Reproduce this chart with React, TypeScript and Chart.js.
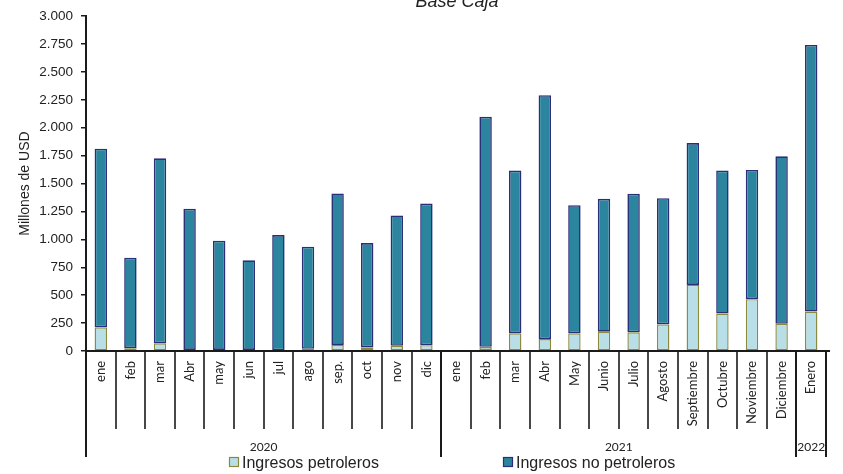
import React, { useEffect, useRef } from "react";
import { Chart, registerables } from "chart.js";

Chart.register(...registerables);

const months: string[] = [
  "ene", "feb", "mar", "Abr", "may", "jun", "jul", "ago", "sep.", "oct", "nov", "dic",
  "ene", "feb", "mar", "Abr", "May", "Junio", "Julio", "Agosto", "Septiembre", "Octubre", "Noviembre", "Diciembre",
  "Enero",
];
const years: { label: string; count: number }[] = [
  { label: "2020", count: 12 },
  { label: "2021", count: 12 },
  { label: "2022", count: 1 },
];
const petroleros: (number | null)[] = [
  211, 25, 69, 10, 10, 10, 5, 20, 54, 33, 47, 52,
  null, 38, 158, 107, 158, 173, 167, 238, 592, 336, 464, 244,
  354,
];
const noPetroleros: (number | null)[] = [
  1601, 811, 1657, 1264, 978, 802, 1033, 914, 1357, 934, 1167, 1269,
  null, 2060, 1458, 2185, 1148, 1190, 1241, 1131, 1271, 1280, 1158, 1500,
  2387,
];
const yTicks: number[] = [0, 250, 500, 750, 1000, 1250, 1500, 1750, 2000, 2250, 2500, 2750, 3000];

const title = "Base Caja";
const yTitle = "Millones de USD";
const seriesNames = ["Ingresos petroleros", "Ingresos no petroleros"];

const PETRO_FILL = "#b8dfe8";
const PETRO_BORDER = "#8a8a3c";
const NON_FILL = "#2c859e";
const NON_BORDER = "#2b2f78";

function fmt(v: number): string {
  const s = Math.round(v).toString();
  return s.replace(/\B(?=(\d{3})+(?!\d))/g, ".");
}

const overlay = {
  id: "overlay",
  afterDraw(chart: any) {
    const ctx = chart.ctx as CanvasRenderingContext2D;
    const x = chart.scales.x;
    const area = chart.chartArea;
    const n = months.length;
    const step = (x.getPixelForValue(n - 1) - x.getPixelForValue(0)) / (n - 1);
    const axisY = area.bottom;
    ctx.save();

    // title
    ctx.fillStyle = "#222";
    ctx.font = "italic 18px 'Liberation Sans', Arial, sans-serif";
    ctx.textAlign = "center";
    ctx.textBaseline = "alphabetic";
    ctx.fillText(title, (area.left + area.right) / 2 + 1, 7);

    // x axis line
    ctx.strokeStyle = "#1a1a1a";
    ctx.lineWidth = 2;
    ctx.beginPath();
    ctx.moveTo(area.left, axisY);
    ctx.lineTo(area.right + 4, axisY);
    ctx.stroke();

    // group boundaries
    const groupIdx = new Set<number>();
    let acc = 0;
    groupIdx.add(0);
    years.forEach((y) => {
      acc += y.count;
      groupIdx.add(acc);
    });

    for (let i = 0; i <= n; i++) {
      const bx = Math.round(x.getPixelForValue(0) - step / 2 + i * step);
      const isGroup = groupIdx.has(i);
      ctx.lineWidth = isGroup ? 2 : 1.6;
      ctx.strokeStyle = "#1a1a1a";
      ctx.beginPath();
      ctx.moveTo(bx, axisY);
      ctx.lineTo(bx, isGroup ? axisY + 106 : axisY + 78);
      ctx.stroke();
    }

    // month labels
    ctx.fillStyle = "#222";
    ctx.font = "13px Lato, 'Open Sans', sans-serif";
    ctx.textAlign = "right";
    ctx.textBaseline = "middle";
    months.forEach((m, i) => {
      const cx = x.getPixelForValue(i);
      ctx.save();
      ctx.translate(cx, axisY + 10);
      ctx.rotate(-Math.PI / 2);
      ctx.fillText(m, 0, 0);
      ctx.restore();
    });

    // year labels
    ctx.font = "12px Lato, 'Open Sans', sans-serif";
    ctx.textAlign = "center";
    ctx.textBaseline = "middle";
    let start = 0;
    years.forEach((y) => {
      const l = x.getPixelForValue(0) - step / 2 + start * step;
      const r = l + y.count * step;
      ctx.fillText(y.label, (l + r) / 2, axisY + 96);
      start += y.count;
    });

    // legend
    const items = [
      { name: seriesNames[0], fill: PETRO_FILL, border: PETRO_BORDER, x: 229 },
      { name: seriesNames[1], fill: NON_FILL, border: NON_BORDER, x: 503 },
    ];
    ctx.font = "16px 'Liberation Sans', Arial, sans-serif";
    ctx.textAlign = "left";
    ctx.textBaseline = "alphabetic";
    items.forEach((it) => {
      ctx.fillStyle = it.fill;
      ctx.fillRect(it.x, 457, 9, 9);
      ctx.strokeStyle = it.border;
      ctx.lineWidth = 1.2;
      ctx.strokeRect(it.x + 0.5, 457.5, 9, 9);
      ctx.fillStyle = "#222";
      ctx.fillText(it.name, it.x + 13, 468);
    });

    ctx.restore();
  },
};

export default function App() {
  const ref = useRef<HTMLCanvasElement | null>(null);
  useEffect(() => {
    document.body.style.margin = "0";
    const canvas = ref.current;
    if (!canvas) return;
    const chart = new Chart(canvas, {
      type: "bar",
      data: {
        labels: months,
        datasets: [
          {
            label: seriesNames[0],
            data: petroleros,
            backgroundColor: PETRO_FILL,
            borderColor: PETRO_BORDER,
            borderWidth: 1.4,
            borderSkipped: false,
            stack: "s",
          },
          {
            label: seriesNames[1],
            data: noPetroleros,
            backgroundColor: NON_FILL,
            borderColor: NON_BORDER,
            borderWidth: 1.6,
            borderSkipped: false,
            stack: "s",
          },
        ],
      },
      options: {
        animation: false,
        responsive: false,
        maintainAspectRatio: false,
        devicePixelRatio: 1,
        layout: { padding: { left: 0, right: 17, top: 15, bottom: 123 } },
        datasets: { bar: { categoryPercentage: 1, barPercentage: 0.42 } },
        plugins: {
          legend: { display: false },
          title: { display: false },
          tooltip: { enabled: false },
        },
        scales: {
          x: {
            stacked: true,
            display: false,
            offset: true,
          },
          y: {
            stacked: true,
            min: 0,
            max: 3000,
            afterBuildTicks: (scale: any) => {
              scale.ticks = yTicks.map((v) => ({ value: v }));
            },
            afterFit: (scale: any) => {
              scale.width = 86;
            },
            grid: {
              display: true,
              drawOnChartArea: false,
              drawTicks: true,
              tickLength: 5,
              color: "#1a1a1a",
              lineWidth: 1.5,
            },
            border: { display: true, color: "#1a1a1a", width: 2 },
            ticks: {
              padding: 8,
              color: "#222",
              font: { family: "'Liberation Sans', Arial, sans-serif", size: 13.5 },
              callback: (v: any) => fmt(Number(v)),
            },
            title: {
              display: true,
              text: yTitle,
              color: "#222",
              font: { family: "'Liberation Sans', Arial, sans-serif", size: 14 },
              padding: { top: 17, bottom: 0 },
            },
          },
        },
      },
      plugins: [overlay],
    });
    return () => chart.destroy();
  }, []);
  return (
    <div style={{ position: "fixed", left: 0, top: 0, width: 843, height: 474, background: "#fff" }}>
      <canvas ref={ref} width={843} height={474} style={{ width: 843, height: 474 }} />
    </div>
  );
}
